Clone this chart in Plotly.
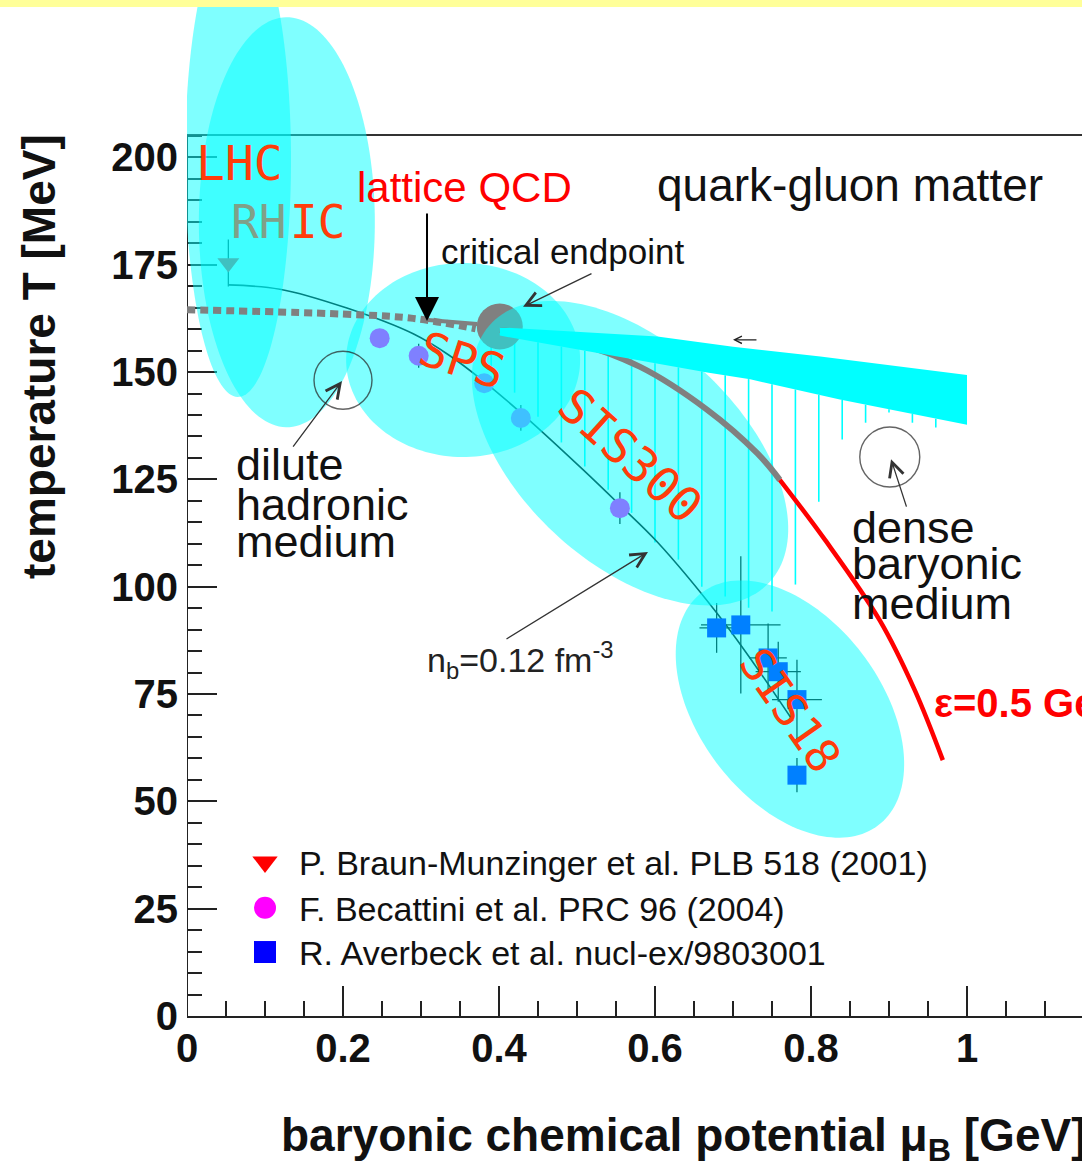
import numpy as np
import plotly.graph_objects as go

# ---------------- figure geometry ----------------
W, H = 1082, 1166
ML, MB = 187, 150
PX_PER_GEV = 780.0          # horizontal scale of the plot
PX_PER_MEV = 4.293          # vertical scale of the plot
X_MAX = (W - ML) / PX_PER_GEV
Y_MAX = (H - MB) / PX_PER_MEV
T_FRAME = 205.2             # upper edge of the frame

# ---------------- data ----------------
# chemical freeze-out curve (n_b = 0.12 fm^-3)
fo_mu = [0.053, 0.119, 0.205, 0.290, 0.337, 0.380, 0.430, 0.508, 0.555, 0.603, 0.680, 0.726, 0.777]
fo_T = [170.3, 169.3, 164.9, 158.9, 153.8, 147.9, 140.2, 127.2, 119.0, 110.4, 93.7, 82.3, 68.7]

# P. Braun-Munzinger et al.
pbm_mu = [0.053]
pbm_T = [175.4]
pbm_dT = [5.5]

# F. Becattini et al.
bec_mu = [0.247, 0.297, 0.381, 0.428, 0.555]
bec_T = [157.9, 153.8, 147.4, 139.3, 118.3]
bec_dT = [1.5, 2.8, 2.0, 3.0, 3.7]

# R. Averbeck et al.
ave_mu = [0.679, 0.710, 0.745, 0.758, 0.782, 0.782]
ave_T = [90.4, 91.1, 83.4, 80.2, 73.7, 56.1]
ave_dmu = [0.022, 0.051, 0.024, 0.029, 0.032, 0.0]
ave_dT = [5.8, 16.0, 8.0, 7.0, 9.3, 4.0]

# lattice crossover (dashed) and pointer segment
xo_mu = [0.0, 0.20, 0.29, 0.37]
xo_T = [164.5, 163.5, 162.5, 160.1]
lq_mu = [0.309, 0.372]
lq_T = [162.1, 161.2]

# critical endpoint
cep_mu = [0.401]
cep_T = [160.6]

# first-order transition line
tr_mu = [0.401, 0.495, 0.581, 0.667, 0.731, 0.760]
tr_T = [159.8, 157.0, 151.2, 141.2, 131.1, 124.9]

# epsilon = 0.5 GeV/fm^3 line
eps_mu = [0.760, 0.818, 0.888, 0.933, 0.969]
eps_T = [124.9, 110.9, 92.2, 75.9, 59.6]

# cyan band above the transition line
band_mu_top = [0.401, 0.603, 0.700, 0.812, 1.0]
band_T_top = [160.4, 158.3, 155.9, 153.6, 149.3]
band_mu_bot = [0.401, 0.667, 0.722, 0.837, 1.0]
band_T_bot = [158.5, 149.9, 148.3, 143.6, 137.7]

# hatched uncertainty below the band
hatch_mu = [0.39, 0.42, 0.45, 0.48, 0.51, 0.54, 0.57, 0.60, 0.63, 0.66,
            0.69, 0.72, 0.75, 0.78, 0.81, 0.84, 0.87, 0.90, 0.93, 0.96]
hatch_T_low = [150.6, 145.2, 139.6, 133.6, 128.0, 122.6, 117.2, 110.3, 106.3, 100.0,
               97.7, 95.1, 94.2, 100.5, 119.8, 134.3, 138.2, 140.6, 138.2, 137.1]

# accelerator regions: centre (mu, T), semi-axes in screen px, tilt in degrees
regions = {
    "RHIC": dict(mu=0.128, T=184.9, a=88, b=205, tilt=0.0),
    "LHC": dict(mu=0.0654, T=199.4, a=53, b=237, tilt=0.0),
    "SPS": dict(mu=0.354, T=152.8, a=117, b=97, tilt=0.0),
    "SIS300": dict(mu=0.568, T=131.1, a=190, b=110, tilt=42.8),
    "SIS18": dict(mu=0.773, T=71.5, a=146, b=91, tilt=52.8),
}

# marker circles for the two media
medium_mu = [0.200, 0.901]
medium_T = [148.1, 130.2]

# legend entries
legend_labels = ["P. Braun-Munzinger et al. PLB 518 (2001)",
                 "F. Becattini et al. PRC 96 (2004)",
                 "R. Averbeck et al. nucl-ex/9803001"]
legend_T = [35.9, 25.2, 14.9]
legend_mu = 0.100

CYAN_FILL = "rgba(0,255,255,0.5)"
LABEL_RED = "#FF3C0A"
LABEL_RED_TINTED = "#80A088"   # label red seen through the translucent cyan
GRAY = "#808080"
SANS = "Liberation Sans, Arial, sans-serif"
HAND = "DejaVu Sans Mono, monospace"


def ellipse(r, n=160):
    t = np.linspace(0, 2 * np.pi, n)
    th = np.radians(r["tilt"])
    dx = r["a"] * np.cos(t) * np.cos(th) - r["b"] * np.sin(t) * np.sin(th)
    dy = r["a"] * np.cos(t) * np.sin(th) + r["b"] * np.sin(t) * np.cos(th)
    return r["mu"] + dx / PX_PER_GEV, r["T"] - dy / PX_PER_MEV


def region_trace(name):
    x, y = ellipse(regions[name])
    return go.Scatter(x=x, y=y, mode="none", fill="toself", fillcolor=CYAN_FILL,
                      hoverinfo="skip", showlegend=False)


fig = go.Figure()

# hatch lines from the band down to the lower bound
hatch_top = np.interp(hatch_mu, band_mu_bot, band_T_bot)
hx, hy = [], []
for m, top, low in zip(hatch_mu, hatch_top, hatch_T_low):
    hx += [m, m, None]
    hy += [top, low, None]
fig.add_trace(go.Scatter(x=hx, y=hy, mode="lines", line=dict(color="#00FFFF", width=1.6),
                         hoverinfo="skip", showlegend=False))

# freeze-out curve
fig.add_trace(go.Scatter(x=fo_mu, y=fo_T, mode="lines", line=dict(color="black", width=1.6, shape="spline"),
                         showlegend=False))

# data points
fig.add_trace(go.Scatter(x=pbm_mu, y=pbm_T, mode="markers",
                         marker=dict(symbol="triangle-down", size=19, color="red"),
                         error_y=dict(type="data", array=pbm_dT, color="black", thickness=1.3, width=0),
                         showlegend=False))
fig.add_trace(go.Scatter(x=bec_mu, y=bec_T, mode="markers",
                         marker=dict(symbol="circle", size=20, color="#FF00FF"),
                         error_y=dict(type="data", array=bec_dT, color="black", thickness=1.3, width=0),
                         showlegend=False))
fig.add_trace(go.Scatter(x=ave_mu, y=ave_T, mode="markers",
                         marker=dict(symbol="square", size=19, color="#0000FF"),
                         error_x=dict(type="data", array=ave_dmu, color="black", thickness=1.3, width=0),
                         error_y=dict(type="data", array=ave_dT, color="black", thickness=1.3, width=0),
                         showlegend=False))

# accelerator regions (translucent)
fig.add_trace(region_trace("RHIC"))
fig.add_trace(region_trace("LHC"))
fig.add_trace(region_trace("SPS"))

# lattice crossover, pointer segment and critical endpoint
fig.add_trace(go.Scatter(x=xo_mu, y=xo_T, mode="lines",
                         line=dict(color=GRAY, width=7, dash="8px,5px", shape="spline"),
                         showlegend=False))
fig.add_trace(go.Scatter(x=lq_mu, y=lq_T, mode="lines", line=dict(color=GRAY, width=4),
                         showlegend=False))
fig.add_trace(go.Scatter(x=cep_mu, y=cep_T, mode="markers",
                         marker=dict(symbol="circle", size=46, color=GRAY), showlegend=False))

fig.add_trace(region_trace("SIS300"))
fig.add_trace(region_trace("SIS18"))

# first-order line, band and energy-density line
fig.add_trace(go.Scatter(x=tr_mu, y=tr_T, mode="lines", line=dict(color=GRAY, width=6, shape="spline"),
                         showlegend=False))
fig.add_trace(go.Scatter(x=band_mu_top + band_mu_bot[::-1], y=band_T_top + band_T_bot[::-1],
                         mode="none", fill="toself", fillcolor="#00FFFF", showlegend=False))
fig.add_trace(go.Scatter(x=eps_mu, y=eps_T, mode="lines", line=dict(color="#FF0000", width=4.5, shape="spline"),
                         showlegend=False))

# circles marking the dilute and dense media
fig.add_trace(go.Scatter(x=medium_mu, y=medium_T, mode="markers",
                         marker=dict(symbol="circle-open", size=[58, 60], color="#222",
                                     line=dict(width=1.4, color="#222")),
                         showlegend=False))

# legend symbols
fig.add_trace(go.Scatter(x=[legend_mu] * 3, y=legend_T, mode="markers",
                         marker=dict(symbol=["triangle-down", "circle", "square"], size=22,
                                     color=["#FF0000", "#FF00FF", "#0000FF"]),
                         showlegend=False))

ann = []


def text(x, y, s, size, color="#111", family=SANS, angle=0, xanchor="center", bold=False, ref="data"):
    d = dict(x=x, y=y, text=s, showarrow=False, textangle=angle, xanchor=xanchor, yanchor="middle",
             font=dict(family=family, size=size, color=color, weight="bold" if bold else "normal"))
    if ref == "paper":
        d.update(xref="paper", yref="paper")
    ann.append(d)


def arrow(tail, head, color="#333", width=1.3, head_style=5, head_size=2.2):
    ann.append(dict(x=head[0], y=head[1], ax=tail[0], ay=tail[1], xref="x", yref="y",
                    axref="x", ayref="y", text="", showarrow=True, arrowhead=head_style,
                    arrowsize=head_size, arrowwidth=width, arrowcolor=color, standoff=0))


text(0.0667, 198.7, "LHC", 48, LABEL_RED, HAND)
# "RHIC": the first half lies under the LHC region, the second half is clear of it
text(0.1295, 185.0, "RH", 46, LABEL_RED_TINTED, HAND, xanchor="right")
text(0.1295, 185.0, "IC", 46, LABEL_RED, HAND, xanchor="left")
text(0.356, 193.1, "lattice QCD", 42, "#FF0000")
text(0.850, 193.6, "quark-gluon matter", 46, "#111")
text(0.482, 178.0, "critical endpoint", 35, "#111")
text(0.3526, 152.8, "SPS", 48, LABEL_RED, HAND, angle=18)
text(0.568, 130.7, "SIS300", 48, LABEL_RED, HAND, angle=42)
text(0.773, 71.3, "SIS18", 46, LABEL_RED, HAND, angle=55)

for s, py in zip(["dilute", "hadronic", "medium"], [464, 504, 541]):
    text((234 - ML) / PX_PER_GEV, (H - MB - py) / PX_PER_MEV, s, 45, xanchor="left")
for s, py in zip(["dense", "baryonic", "medium"], [527, 563, 603]):
    text((850 - ML) / PX_PER_GEV, (H - MB - py) / PX_PER_MEV, s, 45, xanchor="left")

text(0.427, 82.9, "n<sub>b</sub>=0.12 fm<sup>-3</sup>", 34, "#222")
text(0.955, 73.6, "ε=0.5 GeV/fm<sup>3</sup>", 40, "#FF0000", xanchor="left", bold=True)

for lab, t in zip(legend_labels, legend_T):
    text(0.141, t - 0.2, lab, 34, "#111", xanchor="left")

# arrows
arrow((0.3077, 187.3), (0.3077, 161.9), color="black", width=2, head_style=2, head_size=2.4)
arrow((0.5205, 173.1), (0.4308, 165.2))
arrow((0.4077, 87.6), (0.591, 108.1))
arrow((0.1346, 132.3), (0.1987, 147.9))
arrow((0.923, 118.3), (0.9026, 129.7))
arrow((0.732, 157.5), (0.700, 157.5), color="#222", width=1.2, head_size=1.2)

# axis titles
text((279 - ML) / (W - ML), -(1138 - (H - MB)) / (H - MB),
     "baryonic chemical potential μ<sub>B</sub> [GeV]", 46, "#111", xanchor="left", bold=True, ref="paper")
text((39 - ML) / (W - ML), (H - MB - 357) / (H - MB), "temperature T [MeV]", 46, "#111",
     angle=-90, bold=True, ref="paper")

shapes = [
    # frame: left and top edges
    dict(type="line", xref="x", yref="y", x0=0, x1=0, y0=0, y1=T_FRAME,
         line=dict(color="#222", width=2), layer="below"),
    dict(type="line", xref="x", yref="y", x0=0, x1=X_MAX, y0=T_FRAME, y1=T_FRAME,
         line=dict(color="#333", width=2), layer="below"),
    # pale band along the top edge of the page
    dict(type="rect", xref="paper", yref="paper", x0=-ML / (W - ML), x1=1,
         y0=1 - 7 / (H - MB), y1=1.0, fillcolor="#FFFF99", line=dict(width=0), layer="above"),
]

x_major = [0, 0.2, 0.4, 0.6, 0.8, 1.0]
x_minor = [round(v, 2) for v in np.arange(0.05, X_MAX, 0.05) if round(v, 2) not in x_major]
y_major = list(range(0, 201, 25))
y_minor = [v for v in range(5, 206, 5) if v not in y_major]
tickfont = dict(family=SANS, size=40, color="#111", weight="bold")

fig.update_layout(
    width=W, height=H,
    margin=dict(l=ML, r=0, t=0, b=MB, pad=0),
    paper_bgcolor="white", plot_bgcolor="white",
    showlegend=False,
    annotations=ann, shapes=shapes,
    xaxis=dict(range=[0, X_MAX], tickmode="array", tickvals=x_major,
               ticktext=["0", "0.2", "0.4", "0.6", "0.8", "1"],
               ticks="inside", ticklen=30, tickwidth=1.6, tickcolor="#222",
               minor=dict(tickmode="array", tickvals=x_minor, ticks="inside", ticklen=15,
                          tickwidth=1.6, tickcolor="#222", showgrid=False),
               showline=True, linecolor="#222", linewidth=2, showgrid=False, zeroline=False,
               tickfont=tickfont, layer="below traces", ticklabelstandoff=-4),
    yaxis=dict(range=[0, Y_MAX], tickmode="array", tickvals=y_major,
               ticks="inside", ticklen=30, tickwidth=1.6, tickcolor="#222",
               minor=dict(tickmode="array", tickvals=y_minor, ticks="inside", ticklen=15,
                          tickwidth=1.6, tickcolor="#222", showgrid=False),
               showline=False, showgrid=False, zeroline=False,
               tickfont=tickfont, layer="below traces", ticklabelstandoff=8),
)

fig.write_html("out.html")
